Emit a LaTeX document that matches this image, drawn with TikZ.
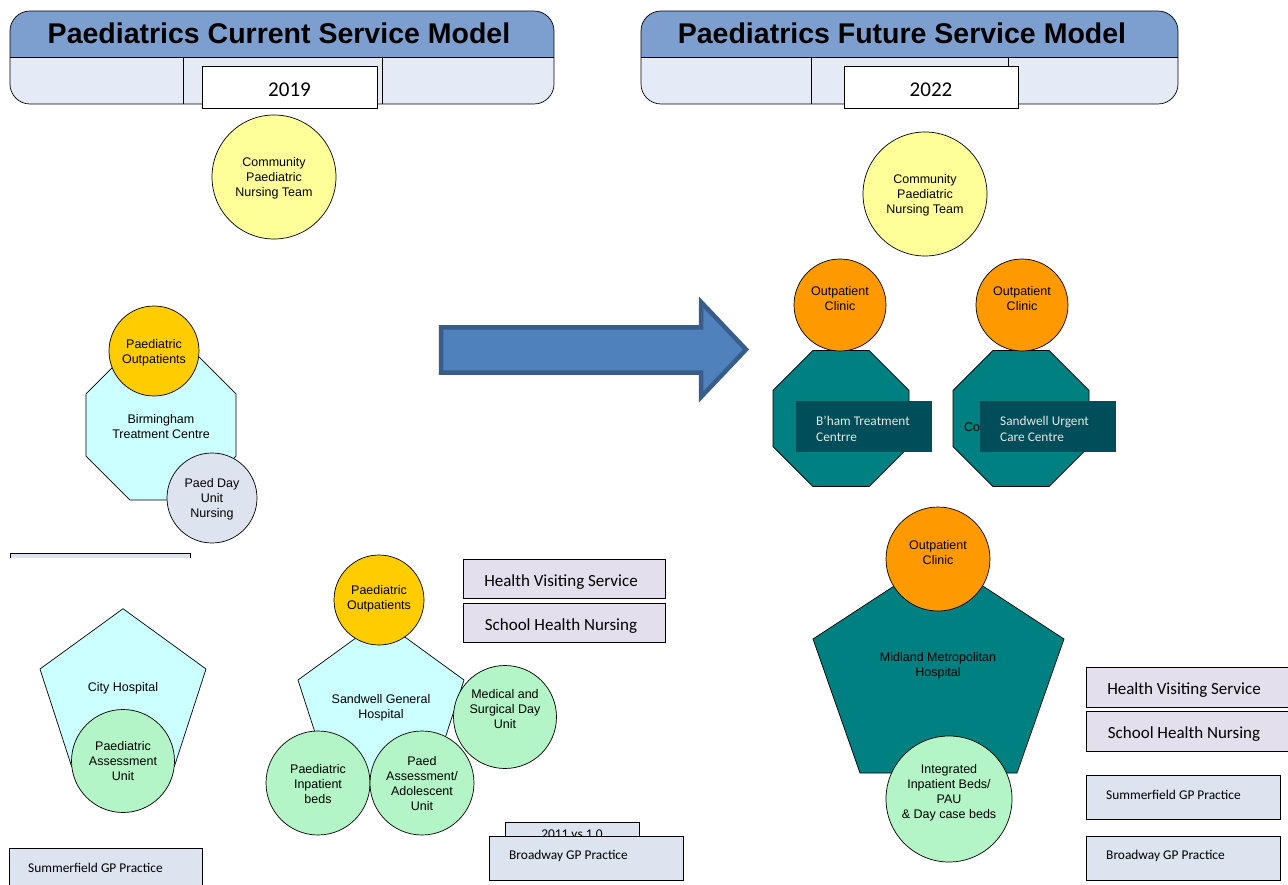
\documentclass[tikz,border=0pt]{standalone}
\usepackage{fontspec}
\setmainfont{Liberation Sans}
\newfontfamily\calfont{Carlito}
\usetikzlibrary{shapes.geometric}
\definecolor{hdrblue}{RGB}{124,159,207}
\definecolor{hdrlight}{RGB}{228,234,246}
\definecolor{cyel}{RGB}{255,255,153}
\definecolor{cgold}{RGB}{255,204,0}
\definecolor{ccyan}{RGB}{204,255,255}
\definecolor{cgreen}{RGB}{179,245,198}
\definecolor{cgrey}{RGB}{222,228,239}
\definecolor{corange}{RGB}{255,153,0}
\definecolor{cteal}{RGB}{0,128,128}
\definecolor{cdark}{RGB}{0,78,89}
\definecolor{clabel}{RGB}{228,232,232}
\definecolor{clav}{RGB}{228,223,236}
\definecolor{cgp}{RGB}{220,228,240}
\definecolor{arrfill}{RGB}{79,129,189}
\definecolor{arrline}{RGB}{56,93,138}
\begin{document}
\begin{tikzpicture}[x=1pt,y=-1pt,
  ln/.style={draw=black,line width=0.7pt},
  circ/.style={circle,ln,minimum size=#1,inner sep=0pt},
  oct/.style={regular polygon,regular polygon sides=8,ln,minimum size=#1,inner sep=0pt},
  pent/.style={regular polygon,regular polygon sides=5,ln,minimum size=#1,inner sep=0pt},
  txt/.style={font=\fontsize{12.5}{15}\selectfont,align=center,inner sep=0pt,yshift=-1.5pt},
  ttl/.style={font=\bfseries\fontsize{28.5}{32}\selectfont,inner sep=0pt},
  yeartxt/.style={font=\calfont\fontsize{21}{24}\selectfont,inner sep=0pt},
  svc/.style={font=\calfont\fontsize{17}{20}\selectfont,inner sep=0pt},
  gptxt/.style={font=\calfont\fontsize{13.4}{16}\selectfont,anchor=west,inner sep=0pt},
  darktxt/.style={font=\calfont\fontsize{13.3}{16}\selectfont,anchor=west,align=left,inner sep=0pt,text=clabel},
  boxln/.style={draw=black,line width=0.9pt}
]
\useasboundingbox (0,0) rectangle (1288,885);
\fill[white] (0,0) rectangle (1288,885);

% ---------- headers ----------
\begin{scope}
\clip[rounded corners=20pt] (10,11) rectangle (554,104);
\fill[hdrlight] (10,11) rectangle (554,104);
\fill[hdrblue] (10,11) rectangle (554,57);
\end{scope}
\draw[ln] (10,57) -- (554,57);
\draw[ln] (183,57) -- (183,104);
\draw[ln] (382,57) -- (382,104);
\draw[ln,rounded corners=20pt] (10,11) rectangle (554,104);
\node[ttl] (title1) at (279,33) {Paediatrics Current Service Model};
\node[boxln,fill=white,minimum width=175pt,minimum height=42pt,inner sep=0pt] (yb1) at (289.5,87) {};
\node[yeartxt] (year1) at (289.5,90) {2019};

\begin{scope}
\clip[rounded corners=20pt] (641,11) rectangle (1178,104);
\fill[hdrlight] (641,11) rectangle (1178,104);
\fill[hdrblue] (641,11) rectangle (1178,57);
\end{scope}
\draw[ln] (641,57) -- (1178,57);
\draw[ln] (811,57) -- (811,104);
\draw[ln] (1008,57) -- (1008,104);
\draw[ln,rounded corners=20pt] (641,11) rectangle (1178,104);
\node[ttl] (title2) at (902,33) {Paediatrics Future Service Model};
\node[boxln,fill=white,minimum width=174pt,minimum height=42pt,inner sep=0pt] (yb2) at (931,87) {};
\node[yeartxt] (year2) at (931,90) {2022};

% ---------- current model ----------
\node[circ=124pt,fill=cyel] (cpnt1) at (274,177) {};
\node[txt] (cpnt1t) at (274,177) {Community\\Paediatric\\Nursing Team};

\node[oct=162.4pt,fill=ccyan] (bhamoct) at (161,425) {};
\node[txt] (bhamt) at (161,425) {Birmingham\\Treatment Centre};
\node[circ=90pt,fill=cgold] (po1) at (154,351) {};
\node[txt] (po1t) at (154,351) {Paediatric\\Outpatients};
\node[circ=90pt,fill=cgrey] (pdu) at (212,498) {};
\node[txt] (pdut) at (212,498) {Paed Day\\Unit\\Nursing};

\fill[cgp] (10,553) rectangle (190,558);
\draw[ln] (10,558) -- (10,553) -- (190,553) -- (190,558);

\node[pent=174.6pt,fill=ccyan] (cityp) at (123,696) {};
\node[txt] (cityt) at (123,687) {City Hospital};
\node[circ=103pt,fill=cgreen] (pau1) at (123,761) {};
\node[txt] (pau1t) at (123,760) {Paediatric\\Assessment\\Unit};

\node[boxln,fill=cgp,minimum width=193pt,minimum height=44pt,inner sep=0pt,anchor=north west] (sgp1) at (9,848) {};
\node[gptxt] (sgp1t) at (28,868) {Summerfield GP Practice};

\node[pent=174.6pt,fill=ccyan] (sandp) at (381,707) {};
\node[txt] (sandt) at (381,706) {Sandwell General\\Hospital};
\node[circ=90pt,fill=cgold] (po2) at (379,600) {};
\node[txt] (po2t) at (379,597) {Paediatric\\Outpatients};
\node[circ=103pt,fill=cgreen] (msd) at (505,717) {};
\node[txt] (msdt) at (505,708) {Medical and\\Surgical Day\\Unit};
\node[circ=104pt,fill=cgreen] (pib) at (318,783) {};
\node[txt] (pibt) at (318,783) {Paediatric\\Inpatient\\beds};
\node[circ=104pt,fill=cgreen] (paa) at (422,783) {};
\node[txt] (paat) at (422,782) {Paed\\Assessment/\\Adolescent\\Unit};

\node[boxln,fill=clav,minimum width=202pt,minimum height=39pt,inner sep=0pt,anchor=north west] (hvs1) at (463,559) {};
\node[svc] (hvs1t) at (561,582) {Health Visiting Service};
\node[boxln,fill=clav,minimum width=202pt,minimum height=39pt,inner sep=0pt,anchor=north west] (shn1) at (463,603) {};
\node[svc] (shn1t) at (561,626) {School Health Nursing};

\node[ln,fill=cgp,minimum width=134pt,minimum height=20pt,inner sep=0pt,anchor=north west] (ver) at (505,822) {};
\node[gptxt,anchor=center] (vert) at (572,834) {2011 vs 1.0};
\node[boxln,fill=cgp,minimum width=194pt,minimum height=44pt,inner sep=0pt,anchor=north west] (bgp1) at (489,836) {};
\node[gptxt] (bgp1t) at (509,856) {Broadway GP Practice};

% ---------- arrow ----------
\draw[draw=arrline,fill=arrfill,line width=4.5pt,line join=miter]
  (441,327.5) -- (701,327.5) -- (701,302) -- (746,349.5) -- (701,397) -- (701,372.5) -- (441,372.5) -- cycle;

% ---------- future model ----------
\node[circ=124pt,fill=cyel] (cpnt2) at (925,194) {};
\node[txt] (cpnt2t) at (925,194) {Community\\Paediatric\\Nursing Team};

\node[oct=147.2pt,fill=cteal] (bhamoct2) at (841,418.5) {};
\node[oct=147.2pt,fill=cteal] (sandoct2) at (1021,418.5) {};
\node[txt,anchor=west] (cot) at (964,426) {Co};
\node[circ=92pt,fill=corange] (oc1) at (840,305) {};
\node[txt] (oc1t) at (840,297) {Outpatient\\Clinic};
\node[circ=92pt,fill=corange] (oc2) at (1022,305) {};
\node[txt] (oc2t) at (1022,297) {Outpatient\\Clinic};

\node[fill=cdark,minimum width=136pt,minimum height=51pt,inner sep=0pt,anchor=north west] (bhl) at (796,401) {};
\node[darktxt] (bhlt) at (816,429) {B’ham Treatment\\Centrre};
\node[fill=cdark,minimum width=136pt,minimum height=51pt,inner sep=0pt,anchor=north west] (sul) at (980,401) {};
\node[darktxt] (sult) at (1000,429) {Sandwell Urgent\\Care Centre};

\draw[ln,fill=cteal] (938.5,557) -- (1064,639) -- (1017,773) -- (860,773) -- (813,639) -- cycle;
\node[txt] (mmht) at (938,664) {Midland Metropolitan\\Hospital};
\node[circ=104pt,fill=corange] (oc3) at (938,559) {};
\node[txt] (oc3t) at (938,551) {Outpatient\\Clinic};
\node[circ=126pt,fill=cgreen] (iib) at (949,799) {};
\node[txt] (iibt) at (949,791) {Integrated\\Inpatient Beds/\\PAU\\\& Day case beds};

\node[boxln,fill=clav,minimum width=202pt,minimum height=40pt,inner sep=0pt,anchor=north west] (hvs2) at (1086,667) {};
\node[svc] (hvs2t) at (1184,690) {Health Visiting Service};
\node[boxln,fill=clav,minimum width=202pt,minimum height=40pt,inner sep=0pt,anchor=north west] (shn2) at (1086,711) {};
\node[svc] (shn2t) at (1184,734) {School Health Nursing};
\node[boxln,fill=cgp,minimum width=194pt,minimum height=44pt,inner sep=0pt,anchor=north west] (sgp2) at (1086,775) {};
\node[gptxt] (sgp2t) at (1106,795) {Summerfield GP Practice};
\node[boxln,fill=cgp,minimum width=194pt,minimum height=44pt,inner sep=0pt,anchor=north west] (bgp2) at (1086,836) {};
\node[gptxt] (bgp2t) at (1106,856) {Broadway GP Practice};
\end{tikzpicture}
\end{document}
